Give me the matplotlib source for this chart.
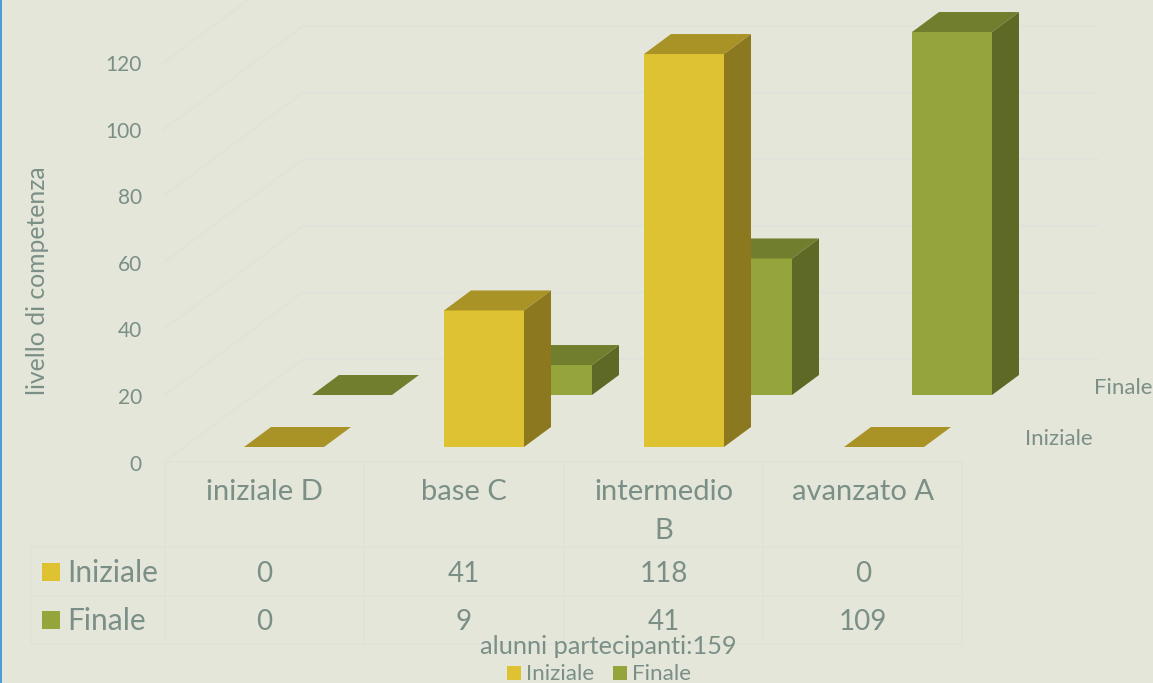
import matplotlib
matplotlib.use("Agg")
import matplotlib.pyplot as plt
from matplotlib.patches import Rectangle
from matplotlib.transforms import Affine2D

plt.rcParams["font.family"] = ["Lato", "DejaVu Sans"]

categories = ["iniziale D", "base C", "intermedio\nB", "avanzato A"]
series_names = ["Iniziale", "Finale"]
iniziale = [0, 41, 118, 0]
finale = [0, 9, 41, 109]
y_ticks = [0, 20, 40, 60, 80, 100, 120]

BG = "#E3E6D9"
GRID = "#DFE3DB"
TXT = "#7B8F87"
YELLOW = ("#DFC232", "#A99226", "#8C781F")
GREEN = ("#95A53C", "#717E2E", "#5F6926")

W, H = 1153, 683
PX_UNIT = 3.33      # pixels per value unit
PX_CAT = 200        # pixels per category
BASE_Y = 447        # pixel row of value 0 for the front series
CAT0_X = 284        # pixel column of the first category centre

fig = plt.figure(figsize=(W / 100, H / 100), dpi=100)
fig.patch.set_facecolor(BG)
ax = fig.add_axes([0, 0, 1, 1])
ax.set_xlim(-CAT0_X / PX_CAT, (W - CAT0_X) / PX_CAT)
ax.set_ylim((BASE_Y - H) / PX_UNIT, BASE_Y / PX_UNIT)
ax.axis("off")

# pixel coords, origin top left, for table and legend furniture
px = Affine2D().scale(1, -1).translate(0, H)

BAR_W = 0.4
DEPTH_X = 27 / PX_CAT
DEPTH_Y = 20 / PX_UNIT
FLOOR_Y = -15 / PX_UNIT             # value 0 on the front of the floor
WALL_DX = 139 / PX_CAT
WALL_DY = 103 / PX_UNIT
LEFT_X = -0.6
RIGHT_X = 4.07


def draw_series(values, colors, dx, dy, z):
    front, top, side = colors
    for i, v in enumerate(values):
        x0 = i - BAR_W / 2 + dx
        x1 = x0 + BAR_W
        y0 = dy
        y1 = dy + v
        if v > 0:
            ax.bar(x0, v, BAR_W, bottom=y0, align="edge", color=front, zorder=z, linewidth=0)
            ax.fill([x1, x1 + DEPTH_X, x1 + DEPTH_X, x1],
                    [y0, y0 + DEPTH_Y, y1 + DEPTH_Y, y1], color=side, zorder=z, lw=0)
        ax.fill([x0, x1, x1 + DEPTH_X, x0 + DEPTH_X],
                [y1, y1, y1 + DEPTH_Y, y1 + DEPTH_Y], color=top, zorder=z, lw=0)


# walls and floor
for t in y_ticks:
    y = FLOOR_Y + t
    ax.plot([LEFT_X, LEFT_X + WALL_DX, RIGHT_X],
            [y, y + WALL_DY, y + WALL_DY], color=GRID, lw=1.3, zorder=1)
    ax.text(-0.71, y - 0.8, str(t), ha="right", va="center", fontsize=15, color=TXT)

draw_series(finale, GREEN, 68 / PX_CAT, 52 / PX_UNIT, 3)
draw_series(iniziale, YELLOW, 0, 0, 4)

# data table under the chart
for y in [462, 547, 596, 644]:
    x_start = 164.5 if y == 462 else 31
    ax.plot([x_start, 962], [y, y], color=GRID, lw=1.3, transform=px, zorder=1)
for x in [164.5, 364, 564, 763, 962]:
    ax.plot([x, x], [462, 644], color=GRID, lw=1.3, transform=px, zorder=1)
ax.plot([31, 31], [547, 644], color=GRID, lw=1.3, transform=px, zorder=1)

for i, name in enumerate(categories):
    cx = 264.5 + 199.5 * i
    ax.text(cx, 479, name, ha="center", va="top", fontsize=21, color=TXT,
            transform=px, linespacing=1.6)
    ax.text(cx, 574, str(iniziale[i]), ha="center", va="center", fontsize=20, color=TXT, transform=px)
    ax.text(cx, 622, str(finale[i]), ha="center", va="center", fontsize=20, color=TXT, transform=px)

for row_y, name, color in [(572, series_names[0], YELLOW[0]), (620, series_names[1], GREEN[0])]:
    ax.add_patch(Rectangle((42, row_y - 9), 18, 18, color=color, transform=px, lw=0))
    ax.text(67, row_y + 1, name, ha="left", va="center", fontsize=21.5, color=TXT, transform=px)

ax.text(1094, 388, series_names[1], ha="left", va="center", fontsize=16, color=TXT, transform=px)
ax.text(1025, 439, series_names[0], ha="left", va="center", fontsize=16, color=TXT, transform=px)

ax.text(38, 281, "livello di competenza", rotation=90, ha="center", va="center",
        fontsize=17.8, color=TXT, transform=px)
ax.text(608, 647, "alunni partecipanti:159", ha="center", va="center",
        fontsize=18.3, color=TXT, transform=px)

ax.add_patch(Rectangle((507, 666), 14, 14, color=YELLOW[0], transform=px, lw=0))
ax.text(526, 674, series_names[0], ha="left", va="center", fontsize=16.2, color=TXT, transform=px)
ax.add_patch(Rectangle((613, 666), 14, 14, color=GREEN[0], transform=px, lw=0))
ax.text(632, 674, series_names[1], ha="left", va="center", fontsize=16.2, color=TXT, transform=px)

# thin blue edge on the left of the slide
ax.add_patch(Rectangle((0, 0), 1.5, H, color="#4A9BD6", transform=px, lw=0))

fig.savefig("out.png", dpi=100, facecolor=BG)
